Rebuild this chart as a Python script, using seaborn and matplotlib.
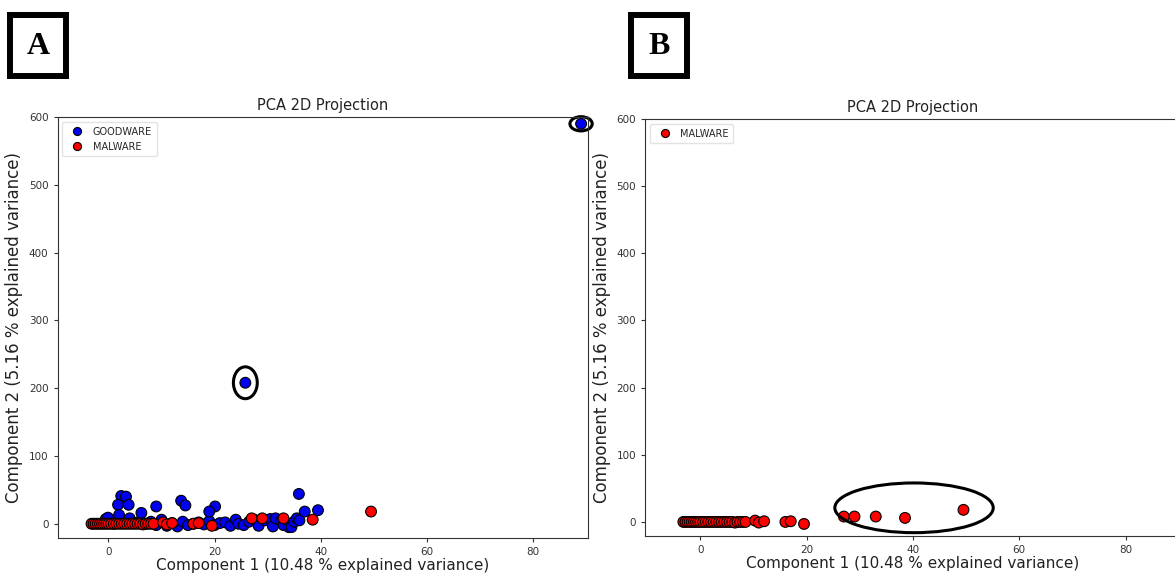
import matplotlib
matplotlib.use("Agg")
import matplotlib.pyplot as plt
from matplotlib.patches import Ellipse, Rectangle
import pandas as pd
import seaborn as sns

# PCA projection points
goodware_x = [-0.5, 0.5, 1, 2, 3, 4, 5, 6, 7, 8, 9, 10, 11, 12, 13, 14, 15, 16, 17, 18,
              19, 20, 21, 22, 23, 24, 24.5, 25.5, 26.5, 27.5, 28.3, 29.5, 30.5, 31, 31.5,
              32.5, 33, 34, 34.5, 35, 35.5, 36,
              2.4, 3.3, 1.8, 3.8, 9, 13.7, 14.5, 20.1, 19, 35.9, 37, 39.5, 6.2, 2.0, -0.1,
              25.8, 89.1]
goodware_y = [7, 3, 0, 5, 2, 8, 1, 4, 0, 3, -2, 6, -3, 1, -4, 3, -2, 0, 2, -1,
              4, -2, 1, 2, -3, 6, 0, -2, 3, 6, -3, 5, 7, -4, 8,
              4, -2, -5, -5, 3, 8, 5,
              41, 40, 28, 28, 25.5, 34, 27, 25.5, 18, 44, 18, 20, 16, 13, 9,
              208, 590]
malware_x = [-3.2, -2.8, -2.4, -2, -1.6, -1.2, -0.8, -0.4, 0, 0.5, 1, 1.5, 2, 2.5, 3, 3.5,
             4, 4.5, 5, 5.5, 6, 6.5, 7, 7.5, 8, 8.5, 10.3, 11, 12, 16, 17, 19.5,
             27, 29, 33, 38.5, 49.5]
malware_y = [0, 0, 0, 0, 0, 0, 0, 0, 0, 0, 0, 0, 0, 0, 0, 0,
             0, 0, 0, 0, 0, -1, 0, 0, 0, 0, 2, -1, 1, 0, 1, -3,
             8, 8, 8, 6, 18]

df = pd.concat([
    pd.DataFrame({"pc1": goodware_x, "pc2": goodware_y, "label": "GOODWARE"}),
    pd.DataFrame({"pc1": malware_x, "pc2": malware_y, "label": "MALWARE"}),
])
palette = {"GOODWARE": "#0000ee", "MALWARE": "#ff0000"}

sns.set_style("ticks")
plt.rcParams["font.family"] = ["DejaVu Sans"]

fig = plt.figure(figsize=(11.75, 5.77), dpi=100)
ax_a = fig.add_axes([0.049, 0.0676, 0.4514, 0.7296])
ax_b = fig.add_axes([0.549, 0.071, 0.456, 0.723])

xlabel = "Component 1 (10.48 % explained variance)"
ylabel = "Component 2 (5.16 % explained variance)"

# Panel A: both classes
sns.scatterplot(data=df, x="pc1", y="pc2", hue="label", palette=palette, s=60,
                edgecolor="black", linewidth=0.8, ax=ax_a)
ax_a.set_xlim(-9.6, 90.4)
ax_a.set_ylim(-21, 600)

# Panel B: malware only
sns.scatterplot(data=df[df["label"] == "MALWARE"], x="pc1", y="pc2", hue="label",
                palette=palette, s=60, edgecolor="black", linewidth=0.8, ax=ax_b)
ax_b.set_xlim(-10.4, 90.4)
ax_b.set_ylim(-21, 600)

for ax in (ax_a, ax_b):
    ax.set_title("PCA 2D Projection", fontsize=10.5, color="#222222", pad=5)
    ax.set_xlabel(xlabel, fontsize=11, color="#222222", labelpad=1)
    ax.set_ylabel(ylabel, fontsize=12, color="#222222", labelpad=4)
    ax.set_xticks([0, 20, 40, 60, 80])
    ax.set_yticks([0, 100, 200, 300, 400, 500, 600])
    ax.tick_params(labelsize=7.5, colors="#333333", length=3)
    for sp in ax.spines.values():
        sp.set_color("#333333")
    leg = ax.legend(loc="upper left", fontsize=7, markerscale=0.75,
                    frameon=True, borderpad=0.5, handletextpad=0.6)
    leg.get_frame().set_edgecolor("#dddddd")
ax_b.spines["right"].set_visible(False)

# highlighted outliers
ax_a.add_patch(Ellipse((25.8, 208), 4.5, 47, fill=False, lw=2.2, ec="black"))
ax_a.add_patch(Ellipse((89.1, 590), 4.2, 21, fill=False, lw=2.2, ec="black", clip_on=False))
ax_b.add_patch(Ellipse((40.2, 21), 29.8, 74, fill=False, lw=2.2, ec="black"))

# panel letters in thick boxes
for letter, x0 in (("A", 7), ("B", 628)):
    fig.patches.append(Rectangle((x0 + 3, 577 - 79 + 3), 62 - 6, 67 - 6,
                                 transform=None, fill=False, lw=4.3, ec="black"))
    fig.text((x0 + 31) / 1175, (577 - 46) / 577, letter, ha="center", va="center",
             fontsize=23, fontweight="bold", color="black", family=["Liberation Serif"])

fig.savefig("out.png", dpi=100)
